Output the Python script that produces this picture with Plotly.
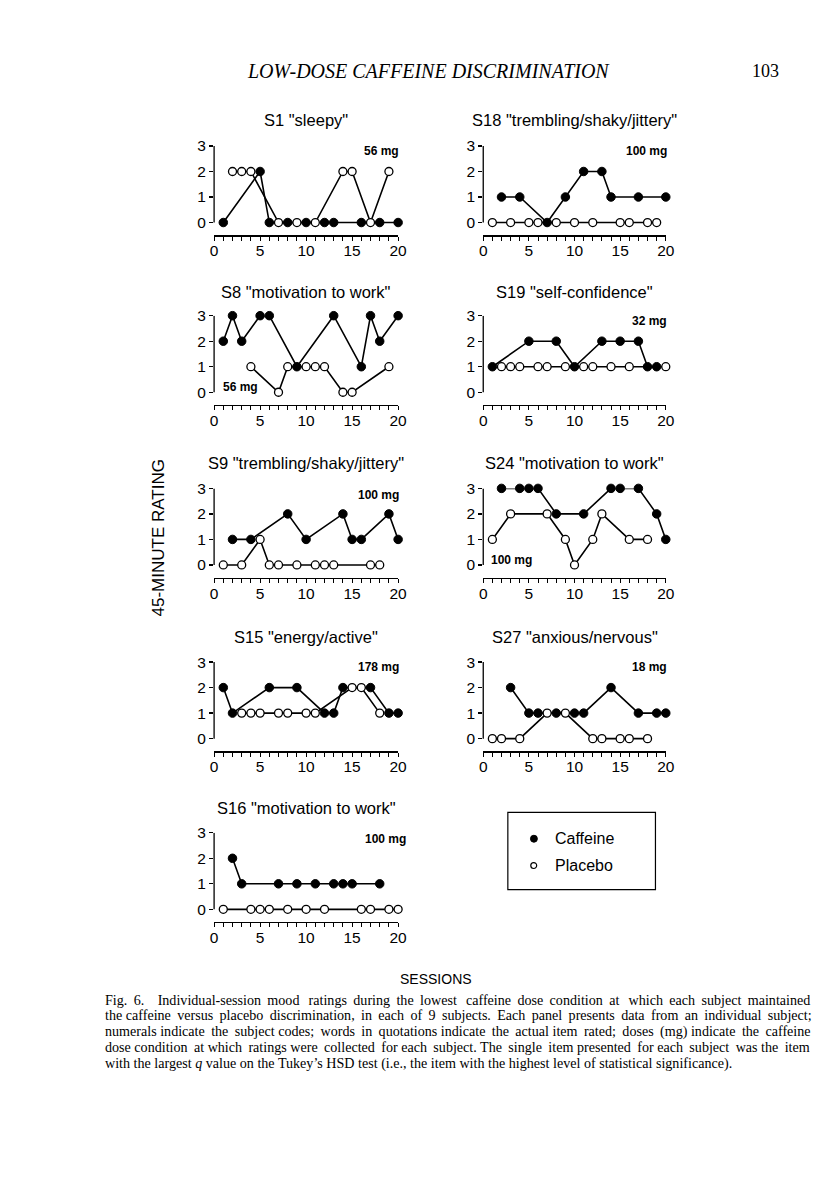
import plotly.graph_objects as go

# ---------------- data ----------------
panel_titles = ['S1 "sleepy"', 'S18 "trembling/shaky/jittery"',
                'S8 "motivation to work"', 'S19 "self-confidence"',
                'S9 "trembling/shaky/jittery"', 'S24 "motivation to work"',
                'S15 "energy/active"', 'S27 "anxious/nervous"',
                'S16 "motivation to work"']
doses = ['56 mg', '100 mg', '56 mg', '32 mg', '100 mg', '100 mg', '178 mg', '18 mg', '100 mg']

s1_caf_x = [1, 5, 6, 8, 10, 12, 13, 16, 18, 20]
s1_caf_y = [0, 2, 0, 0, 0, 0, 0, 0, 0, 0]
s1_pla_x = [2, 3, 4, 7, 9, 11, 14, 15, 17, 19]
s1_pla_y = [2, 2, 2, 0, 0, 0, 2, 2, 0, 2]

s18_caf_x = [2, 4, 7, 9, 11, 13, 14, 17, 20]
s18_caf_y = [1, 1, 0, 1, 2, 2, 1, 1, 1]
s18_pla_x = [1, 3, 5, 6, 8, 10, 12, 15, 16, 18, 19]
s18_pla_y = [0, 0, 0, 0, 0, 0, 0, 0, 0, 0, 0]

s8_caf_x = [1, 2, 3, 5, 6, 9, 13, 16, 17, 18, 20]
s8_caf_y = [2, 3, 2, 3, 3, 1, 3, 1, 3, 2, 3]
s8_pla_x = [4, 7, 8, 10, 11, 12, 14, 15, 19]
s8_pla_y = [1, 0, 1, 1, 1, 1, 0, 0, 1]

s19_caf_x = [1, 5, 8, 10, 13, 15, 17, 18, 19]
s19_caf_y = [1, 2, 2, 1, 2, 2, 2, 1, 1]
s19_pla_x = [2, 3, 4, 6, 7, 9, 11, 12, 14, 16, 20]
s19_pla_y = [1, 1, 1, 1, 1, 1, 1, 1, 1, 1, 1]

s9_caf_x = [2, 4, 8, 10, 14, 15, 16, 19, 20]
s9_caf_y = [1, 1, 2, 1, 2, 1, 1, 2, 1]
s9_pla_x = [1, 3, 5, 6, 7, 9, 11, 12, 13, 17, 18]
s9_pla_y = [0, 0, 1, 0, 0, 0, 0, 0, 0, 0, 0]

s24_caf_x = [2, 4, 5, 6, 8, 11, 14, 15, 17, 19, 20]
s24_caf_y = [3, 3, 3, 3, 2, 2, 3, 3, 3, 2, 1]
s24_pla_x = [1, 3, 7, 9, 10, 12, 13, 16, 18]
s24_pla_y = [1, 2, 2, 1, 0, 1, 2, 1, 1]

s15_caf_x = [1, 2, 6, 9, 12, 13, 14, 17, 19, 20]
s15_caf_y = [2, 1, 2, 2, 1, 1, 2, 2, 1, 1]
s15_pla_x = [3, 4, 5, 7, 8, 10, 11, 15, 16, 18]
s15_pla_y = [1, 1, 1, 1, 1, 1, 1, 2, 2, 1]

s27_caf_x = [3, 5, 6, 8, 10, 11, 14, 17, 19, 20]
s27_caf_y = [2, 1, 1, 1, 1, 1, 2, 1, 1, 1]
s27_pla_x = [1, 2, 4, 7, 9, 12, 13, 15, 16, 18]
s27_pla_y = [0, 0, 0, 1, 1, 0, 0, 0, 0, 0]

s16_caf_x = [2, 3, 7, 9, 11, 13, 14, 15, 18]
s16_caf_y = [2, 1, 1, 1, 1, 1, 1, 1, 1]
s16_pla_x = [1, 4, 5, 6, 8, 10, 12, 16, 17, 19, 20]
s16_pla_y = [0, 0, 0, 0, 0, 0, 0, 0, 0, 0, 0]

caffeine = [(s1_caf_x, s1_caf_y), (s18_caf_x, s18_caf_y), (s8_caf_x, s8_caf_y),
            (s19_caf_x, s19_caf_y), (s9_caf_x, s9_caf_y), (s24_caf_x, s24_caf_y),
            (s15_caf_x, s15_caf_y), (s27_caf_x, s27_caf_y), (s16_caf_x, s16_caf_y)]
placebo = [(s1_pla_x, s1_pla_y), (s18_pla_x, s18_pla_y), (s8_pla_x, s8_pla_y),
           (s19_pla_x, s19_pla_y), (s9_pla_x, s9_pla_y), (s24_pla_x, s24_pla_y),
           (s15_pla_x, s15_pla_y), (s27_pla_x, s27_pla_y), (s16_pla_x, s16_pla_y)]

x_ticks = list(range(0, 21))
x_labels = [str(v) if v % 5 == 0 else '' for v in x_ticks]
y_ticks = [0, 1, 2, 3]

caption_lines = [
    'Fig. 6.\u2002 Individual-session mood ratings during the lowest caffeine dose condition at which each subject maintained',
    'the caffeine versus placebo discrimination, in each of 9 subjects. Each panel presents data from an individual subject;',
    'numerals indicate the subject codes; words in quotations indicate the actual item rated; doses (mg) indicate the caffeine',
    'dose condition at which ratings were collected for each subject. The single item presented for each subject was the item',
    'with the largest <i>q</i> value on the Tukey\u2019s HSD test (i.e., the item with the highest level of statistical significance).',
]

# ---------------- layout geometry (pixels) ----------------
W, H = 816, 1200
col_px = [(213.5, 400.5), (487.0, 672.5)]
row_top_px = [138, 309, 483, 658, 830]
panel_h_px = 90
title_y_px = [112, 285, 457, 633, 805]
# (x, y, anchor, xshift px)
dose_pos = [(20, 2.8, 'right', 3), (20, 2.8, 'right', 3), (0.8, 0.22, 'left', 0),
            (20, 2.8, 'right', 3), (20, 2.75, 'right', 3), (0.6, 0.18, 'left', 0),
            (20, 2.8, 'right', 3), (20, 2.8, 'right', 3), (20, 2.75, 'right', 10)]
caption_y_px = [998, 1014, 1030, 1046, 1062]
caption_extra = [1.25, 0.95, 0.72, 0.6, 0.0]   # thin spaces per word gap (justification)

SANS = 'Liberation Sans, Arial, sans-serif'
SERIF = 'Liberation Serif, Times New Roman, serif'


def px_x(p):
    return p / W


def px_y(p):
    return 1 - p / H


def justify(line, extra):
    words = line.split(' ')
    out = words[0]
    acc = 0.0
    for w in words[1:]:
        acc += extra
        n = int(acc)
        acc -= n
        out += ' ' + '\u2009' * n + w
    return out


fig = go.Figure()
layout = dict(width=W, height=H, margin=dict(l=0, r=0, t=0, b=0),
              paper_bgcolor='white', plot_bgcolor='rgba(0,0,0,0)',
              showlegend=False, font=dict(family=SANS, color='black'))
annotations = []
shapes = []

for i in range(9):
    r, c = divmod(i, 2)
    sfx = '' if i == 0 else str(i + 1)
    xa, ya = 'x' + sfx, 'y' + sfx
    x0, x1 = col_px[c]
    top = row_top_px[r]
    bot = top + panel_h_px
    layout['xaxis' + sfx] = dict(
        domain=[px_x(x0), px_x(x1)], anchor=ya, range=[0, 20],
        showline=True, linecolor='black', linewidth=1.3, mirror=False,
        ticks='outside', ticklen=4, tickwidth=1, tickcolor='black',
        tickvals=x_ticks, ticktext=x_labels, tickfont=dict(size=15.5, family=SANS),
        ticklabelstandoff=-3,
        showgrid=False, zeroline=False, fixedrange=True)
    layout['yaxis' + sfx] = dict(
        domain=[px_y(bot), px_y(top)], anchor=xa, range=[-0.5, 3.0],
        showline=False, ticks='outside', ticklen=4, tickwidth=1.3, tickcolor='black',
        tickvals=y_ticks, tickfont=dict(size=15.5, family=SANS),
        showgrid=False, zeroline=False, fixedrange=True)
    # y axis line spanning 0..3
    shapes.append(dict(type='line', xref=xa + ' domain', yref=ya, x0=0, x1=0, y0=0, y1=3,
                       line=dict(color='black', width=1.3)))
    cx, cy = caffeine[i]
    px_, py_ = placebo[i]
    fig.add_trace(go.Scatter(x=cx, y=cy, xaxis=xa, yaxis=ya, mode='lines+markers',
                             name='Caffeine', cliponaxis=False, hoverinfo='skip',
                             line=dict(color='black', width=1.6),
                             marker=dict(symbol='circle', size=8.5, color='black',
                                         line=dict(color='black', width=1))))
    fig.add_trace(go.Scatter(x=px_, y=py_, xaxis=xa, yaxis=ya, mode='lines+markers',
                             name='Placebo', cliponaxis=False, hoverinfo='skip',
                             line=dict(color='black', width=1.6),
                             marker=dict(symbol='circle', size=8, color='white',
                                         line=dict(color='black', width=1.3))))
    # panel title
    annotations.append(dict(text=panel_titles[i], xref='paper', yref='paper',
                            x=px_x((x0 + x1) / 2), y=px_y(title_y_px[r]),
                            xanchor='center', yanchor='middle', showarrow=False,
                            font=dict(size=16.5, family=SANS)))
    dx, dy, anc, shift = dose_pos[i]
    annotations.append(dict(text='<b>' + doses[i] + '</b>', xref=xa, yref=ya, x=dx, y=dy,
                            xanchor=anc, yanchor='middle', showarrow=False, xshift=shift,
                            font=dict(size=12, family=SANS)))

# legend box
shapes.append(dict(type='rect', xref='paper', yref='paper',
                   x0=px_x(512), x1=px_x(662), y0=px_y(887.3), y1=px_y(809.5),
                   line=dict(color='black', width=1.2), fillcolor='rgba(0,0,0,0)'))
shapes.append(dict(type='circle', xref='paper', yref='paper',
                   x0=px_x(535), x1=px_x(542), y0=px_y(839.5), y1=px_y(832.5),
                   line=dict(color='black', width=1), fillcolor='black'))
shapes.append(dict(type='circle', xref='paper', yref='paper',
                   x0=px_x(535.3), x1=px_x(541.3), y0=px_y(866), y1=px_y(860),
                   line=dict(color='black', width=1.2), fillcolor='white'))
annotations.append(dict(text='Caffeine', xref='paper', yref='paper', x=px_x(558), y=px_y(836),
                        xanchor='left', yanchor='middle', showarrow=False,
                        font=dict(size=16, family=SANS)))
annotations.append(dict(text='Placebo', xref='paper', yref='paper', x=px_x(558), y=px_y(863),
                        xanchor='left', yanchor='middle', showarrow=False,
                        font=dict(size=16, family=SANS)))

# page header
annotations.append(dict(text='<i>LOW-DOSE CAFFEINE DISCRIMINATION</i>', xref='paper', yref='paper',
                        x=px_x(431), y=px_y(62), xanchor='center', yanchor='middle',
                        showarrow=False, font=dict(size=20, family=SERIF)))
annotations.append(dict(text='103', xref='paper', yref='paper',
                        x=px_x(774), y=px_y(62), xanchor='center', yanchor='middle',
                        showarrow=False, font=dict(size=18, family=SERIF)))

# axis titles
annotations.append(dict(text='45-MINUTE RATING', xref='paper', yref='paper',
                        x=px_x(157), y=px_y(533), xanchor='center', yanchor='middle',
                        textangle=-90, showarrow=False, font=dict(size=17, family=SANS)))
annotations.append(dict(text='SESSIONS', xref='paper', yref='paper',
                        x=px_x(439), y=px_y(977), xanchor='center', yanchor='middle',
                        showarrow=False, font=dict(size=14, family=SANS)))

# caption
for line, yy, ex in zip(caption_lines, caption_y_px, caption_extra):
    annotations.append(dict(text=justify(line, ex), xref='paper', yref='paper',
                            x=px_x(101), y=px_y(yy),
                            xanchor='left', yanchor='middle', showarrow=False,
                            font=dict(size=14.1, family=SERIF)))

layout['annotations'] = annotations
layout['shapes'] = shapes
fig.update_layout(**layout)
fig.write_html('out.html', config={'displayModeBar': False, 'staticPlot': True},
               post_script="document.body.style.margin='0px';")
